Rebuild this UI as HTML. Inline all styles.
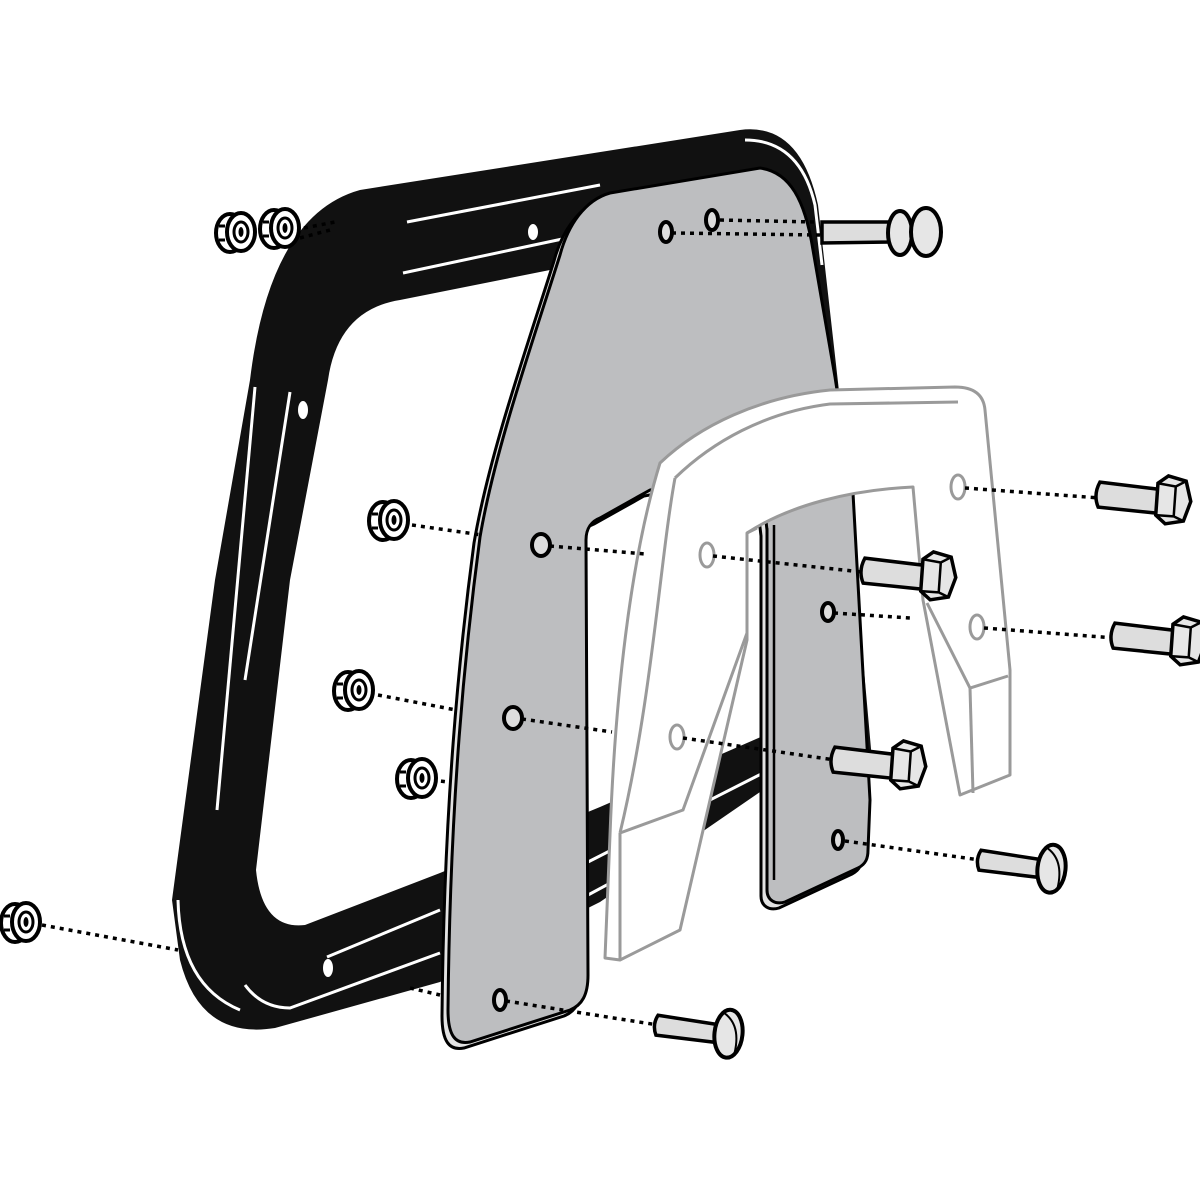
<!DOCTYPE html>
<html><head><meta charset="utf-8"><style>html,body{margin:0;padding:0;background:#fff}svg{display:block}</style></head>
<body>
<svg width="1200" height="1200" viewBox="0 0 1200 1200" xmlns="http://www.w3.org/2000/svg">
<defs>
<g id="nut">
<ellipse cx="-7" cy="1" rx="14" ry="19" fill="#fff" stroke="#000" stroke-width="4"/>
<path d="M-18,-6 L-12,-6 M-18,8 L-12,8" stroke="#000" stroke-width="3"/>
<ellipse cx="4" cy="0" rx="14" ry="19" fill="#fff" stroke="#000" stroke-width="4"/>
<ellipse cx="4" cy="0" rx="7" ry="10" fill="#fff" stroke="#000" stroke-width="3"/>
<ellipse cx="4" cy="0" rx="2.5" ry="5" fill="#000"/>
</g>
<g id="hexbolt">
<path d="M2,-13 L62,-10 L62,14 L2,12 Q-4,0 2,-13 Z" fill="#ddd" stroke="#000" stroke-width="3.5"/>
<path d="M60,-16 L70,-24 L88,-20 L94,0 L88,20 L70,24 L60,16 Z" fill="#e6e6e6" stroke="#000" stroke-width="3.5"/>
<path d="M60,-16 L78,-14 L78,16 L60,16 M78,-14 L88,-20 M78,16 L88,20" fill="none" stroke="#000" stroke-width="2.5"/>
</g>
<g id="panbolt">
<path d="M2,-10 L62,-7 L62,11 L2,10 Q-3,0 2,-10 Z" fill="#ddd" stroke="#000" stroke-width="3.5"/>
<ellipse cx="74" cy="1" rx="14" ry="24" fill="#e6e6e6" stroke="#000" stroke-width="4"/>
<path d="M66,-20 Q86,-10 82,20" fill="none" stroke="#000" stroke-width="2"/>
</g>
</defs>

<!-- Black frame -->
<path fill-rule="evenodd" fill="#111" d="
M360,190 L740,130 Q800,122 818,205 L840,400 L872,760 L760,792 L600,902 L440,982 L275,1028 Q200,1040 180,960 L172,900 L215,580 L250,380 Q270,215 360,190 Z
M400,300 L760,228 L770,733 L600,807 L440,873 L305,925 Q262,930 256,870 L290,580 L328,380 Q338,310 400,300 Z"/>
<!-- frame white lines -->
<g stroke="#fff" stroke-width="3" fill="none">
<path d="M407,222 L600,185"/>
<path d="M403,273 L567,238"/>
<path d="M255,387 L217,810"/>
<path d="M290,392 L245,680"/>
<path d="M245,985 Q262,1008 290,1008 L440,953"/>
<path d="M327,957 L440,910"/>
<path d="M178,900 Q180,985 240,1010"/>
<path d="M588,862 L765,772"/>
<path d="M588,895 L765,800"/>
<path d="M745,140 Q800,140 815,205 L822,265"/>
</g>
<ellipse cx="303" cy="410" rx="5" ry="9" fill="#fff"/>
<ellipse cx="328" cy="968" rx="5" ry="9" fill="#fff"/>
<ellipse cx="533" cy="232" rx="5" ry="8" fill="#fff"/>

<!-- Gray plate (thickness copy then face) -->
<path transform="translate(-6,6)" fill="#e2e2e2" stroke="#000" stroke-width="3" d="M610,193 C585,200 568,225 560,255 C530,350 495,450 480,537 C465,650 450,800 448,1010 C448,1035 455,1045 470,1042 L570,1010 C582,1005 588,995 588,975 L586,540 C586,528 592,521 600,518 L650,490 L760,470 L767,530 L767,890 C767,900 775,905 785,902 L858,868 C866,864 868,858 868,850 L870,800 L853,493 L835,377 L813,250 C805,200 790,172 760,168 Z"/>
<path fill="#bdbec0" stroke="#000" stroke-width="3" d="M610,193 C585,200 568,225 560,255 C530,350 495,450 480,537 C465,650 450,800 448,1010 C448,1035 455,1045 470,1042 L570,1010 C582,1005 588,995 588,975 L586,540 C586,528 592,521 600,518 L650,490 L760,470 L767,530 L767,890 C767,900 775,905 785,902 L858,868 C866,864 868,858 868,850 L870,800 L853,493 L835,377 L813,250 C805,200 790,172 760,168 Z"/>

<!-- White bracket -->
<path fill="#fff" stroke="#9a9a9a" stroke-width="3" stroke-linejoin="round" d="M660,463 C700,425 760,397 830,390 L955,387 Q983,387 985,410 L1010,670 L1010,775 L960,795 L923,600 L913,487 C850,490 790,505 747,533 L747,640 L680,930 L620,960 L605,958 L610,835 C615,700 630,560 660,463 Z"/>
<g fill="none" stroke="#9a9a9a" stroke-width="3">
<path d="M675,478 C712,442 765,412 830,404 L958,402"/>
<path d="M675,478 C660,560 652,700 620,833"/>
<path d="M620,833 L683,810 L747,633"/>
<path d="M620,833 L620,960"/>
<path d="M927,603 L970,688 L1008,676"/>
<path d="M970,688 L973,793"/>
<path d="M747,533 L757,528"/>
</g>
<!-- gray right leg showing through bracket opening -->
<path fill="#bdbec0" d="M773,526 C800,512 830,500 855,495 L868,800 L870,850 L790,885 L775,880 Z" opacity="0"/>
<path d="M767,528 L767,890 M774,525 L774,880" stroke="#000" stroke-width="2.5"/>

<!-- bracket holes -->
<g fill="#fff" stroke="#9a9a9a" stroke-width="3">
<ellipse cx="707" cy="555" rx="7" ry="12"/>
<ellipse cx="677" cy="737" rx="7" ry="12"/>
<ellipse cx="958" cy="487" rx="7" ry="12"/>
<ellipse cx="977" cy="627" rx="7" ry="12"/>
</g>
<!-- plate holes -->
<g fill="#ddd" stroke="#000" stroke-width="4">
<ellipse cx="666" cy="232" rx="6" ry="10"/>
<ellipse cx="712" cy="220" rx="6" ry="10"/>
<ellipse cx="541" cy="545" rx="9" ry="11"/>
<ellipse cx="513" cy="718" rx="9" ry="11"/>
<ellipse cx="500" cy="1000" rx="6" ry="10"/>
<ellipse cx="828" cy="612" rx="6" ry="9"/>
<ellipse cx="838" cy="840" rx="5" ry="9"/>
</g>

<!-- dotted lines -->
<g stroke="#000" stroke-width="3.5" stroke-dasharray="4,5" fill="none">
<path d="M304,228 L335,222"/>
<path d="M300,238 L330,230"/>
<path d="M412,525 L482,535"/>
<path d="M550,546 L645,554"/>
<path d="M713,556 L862,572"/>
<path d="M378,695 L456,710"/>
<path d="M522,719 L612,732"/>
<path d="M683,738 L835,760"/>
<path d="M432,780 L448,782"/>
<path d="M42,925 L178,950"/>
<path d="M410,988 L440,995"/>
<path d="M506,1001 L658,1025"/>
<path d="M720,220 L815,222"/>
<path d="M672,233 L820,235"/>
<path d="M965,488 L1100,498"/>
<path d="M984,628 L1115,638"/>
<path d="M834,613 L910,618"/>
<path d="M845,841 L980,860"/>
</g>

<!-- nuts -->
<use href="#nut" x="237" y="232"/>
<use href="#nut" x="281" y="228"/>
<use href="#nut" x="390" y="520"/>
<use href="#nut" x="355" y="690"/>
<use href="#nut" x="418" y="778"/>
<use href="#nut" x="22" y="922"/>

<!-- top bolt (double-knob) -->
<g>
<path d="M822,222 L890,222 L890,242 L822,243 Z" fill="#ddd" stroke="#000" stroke-width="3.5"/>
<ellipse cx="900" cy="233" rx="12" ry="22" fill="#e6e6e6" stroke="#000" stroke-width="4"/>
<ellipse cx="926" cy="232" rx="15" ry="24" fill="#e6e6e6" stroke="#000" stroke-width="4"/>
</g>

<!-- hex bolts -->
<use href="#hexbolt" transform="translate(1097,495) rotate(4)"/>
<use href="#hexbolt" transform="translate(1112,636) rotate(4)"/>
<use href="#hexbolt" transform="translate(862,571) rotate(4)"/>
<use href="#hexbolt" transform="translate(832,760) rotate(4)"/>
<!-- pan bolts -->
<use href="#panbolt" transform="translate(655,1025) rotate(6)"/>
<use href="#panbolt" transform="translate(978,860) rotate(6)"/>
</svg>
</body></html>
